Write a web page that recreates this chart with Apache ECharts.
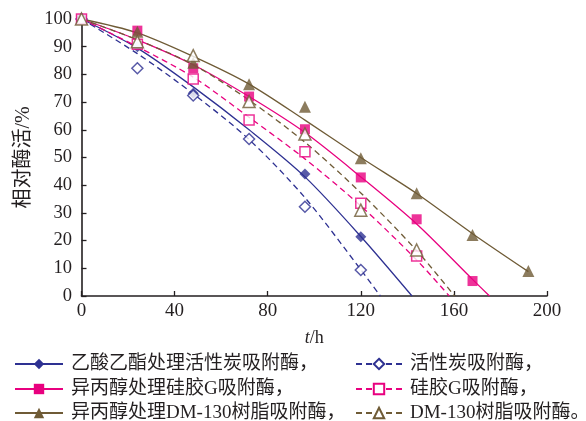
<!DOCTYPE html>
<html>
<head>
<meta charset="utf-8">
<script src="https://cdn.jsdelivr.net/npm/echarts@6/dist/echarts.min.js"></script>
<style>html,body{margin:0;padding:0;background:#fff}#c{width:586px;height:421px}</style>
</head>
<body>
<div id="c"></div>
<script>
// ---- measured points ----
const tPts = [0, 24, 48, 72, 96, 120, 144, 168, 192];
const eaCarbon   = [100, 90, 73.2, null, 44, 21.4];          // 乙酸乙酯处理活性炭吸附酶 (filled diamond)
const carbon     = [100, 82.2, 72.4, 56.7, 32.2, 9.4];        // 活性炭吸附酶 (hollow diamond)
const ipaSilica  = [100, 95.8, 82.2, 72, 60.2, 42.8, 27.7, 5.4]; // 异丙醇处理硅胶G吸附酶 (filled square)
const silica     = [100, 90.9, 78.3, 63.5, 52.1, 33.5, 14.4];  // 硅胶G吸附酶 (hollow square)
const ipaResin   = [100, 95.4, 84.2, 76.4, 68.3, 49.7, 37.1, 22, 9]; // 异丙醇处理DM-130树脂吸附酶 (filled triangle)
const resin      = [100, 91.8, 86.8, 70.2, 58.5, 31, 16.6];   // DM-130树脂吸附酶 (hollow triangle)

// ---- fitted curves ----
const fitEaCarbonX  = [0, 24, 48, 72, 96, 120, 142];
const fitEaCarbonY  = [100, 89.5, 75.5, 60, 43, 21.5, 0];
const fitCarbonX    = [0, 24, 48, 72, 96, 120, 128.4];
const fitCarbonY    = [100, 87.5, 73, 56.5, 35.5, 9.5, 0];
const fitIpaSilicaX = [0, 24, 48, 72, 96, 120, 144, 168, 175.3];
const fitIpaSilicaY = [100, 92.5, 83.5, 72, 59, 43, 26, 6, 0];
const fitSilicaX    = [0, 24, 48, 72, 96, 120, 144, 158];
const fitSilicaY    = [100, 90, 79, 64.5, 49.5, 32.5, 13, 0];
const fitIpaResinX  = [0, 24, 48, 72, 96, 120, 144, 168, 192];
const fitIpaResinY  = [100, 95, 86.5, 76.5, 63.5, 50, 37, 22.5, 8.8];
const fitResinX     = [0, 24, 48, 72, 96, 120, 144, 160.3];
const fitResinY     = [100, 92.5, 83.5, 70.7, 55.5, 37.2, 16.4, 0];

// ---- labels ----
const names = ['乙酸乙酯处理活性炭吸附酶，', '活性炭吸附酶，', '异丙醇处理硅胶G吸附酶，', '硅胶G吸附酶，', '异丙醇处理DM-130树脂吸附酶，', 'DM-130树脂吸附酶。'];
const xTicks = [0, 40, 80, 120, 160, 200];
const yTicks = [0, 10, 20, 30, 40, 50, 60, 70, 80, 90, 100];

const BLUE = '#2e3192', PINK = '#e8007f', BROWN = '#6f5b36', INK = '#231f20';
const FONT = "'Liberation Serif', 'Noto Sans CJK SC', serif";

function pairs(xs, ys) { return xs.map((x, i) => [x, ys[i]]); }
function ptPairs(ys) { return ys.map((v, i) => v == null ? null : [tPts[i], v]).filter(p => p); }

const dash = [6, 4];
function fitSeries(name, xs, ys, color, dashed, symbol) {
  return {
    name, type: 'line', data: pairs(xs, ys), smooth: 0.3, showSymbol: false, symbol,
    lineStyle: { color, width: 1.3, type: dashed ? dash : 'solid' },
    itemStyle: { color }, z: 2, silent: true
  };
}
function ptSeries(name, ys, color, symbol, size, hollow) {
  return {
    name, type: 'scatter', data: ptPairs(ys), symbol, symbolSize: size,
    itemStyle: hollow ? { color: '#fff', borderColor: color, borderWidth: 1.5 } : { color },
    z: hollow ? 5 : 4, silent: true
  };
}
function legendItem(name, left, width, centerY) {
  return {
    data: [name], orient: 'horizontal', left, top: centerY - 10, padding: 0,
    itemWidth: width, itemHeight: 13, selectedMode: false,
    textStyle: { color: INK, fontSize: 19, fontFamily: FONT, lineHeight: 20, padding: [0, 0, 0, 3] }
  };
}

const chart = echarts.init(document.getElementById('c'), null, { renderer: 'canvas' });
chart.setOption({
  animation: false,
  backgroundColor: '#fff',
  grid: { left: 81.5, right: 39, top: 19, bottom: 125, containLabel: false },
  xAxis: {
    type: 'value', min: 0, max: 200, interval: 40,
    name: '{i|t}/h', nameLocation: 'middle', nameGap: 33,
    nameTextStyle: { color: INK, fontSize: 18, fontFamily: FONT, rich: { i: { fontStyle: 'italic', fontSize: 18, fontFamily: FONT, color: INK } } },
    axisLine: { lineStyle: { color: INK, width: 1.6 } },
    axisTick: { inside: true, length: 5, lineStyle: { color: INK, width: 1.3 } },
    axisLabel: { color: INK, fontSize: 19, fontFamily: FONT, margin: 6, formatter: v => xTicks.includes(v) ? String(v) : '' },
    splitLine: { show: false }
  },
  yAxis: {
    type: 'value', min: 0, max: 100, interval: 10,
    name: '相对酶活/%', nameLocation: 'middle', nameGap: 48, nameRotate: 90,
    nameTextStyle: { color: INK, fontSize: 20, fontFamily: FONT },
    axisLine: { show: true, lineStyle: { color: INK, width: 1.6 } },
    axisTick: { show: true, inside: true, length: 5, lineStyle: { color: INK, width: 1.3 } },
    axisLabel: { color: INK, fontSize: 18.5, fontFamily: FONT, margin: 9.5, formatter: v => yTicks.includes(v) ? String(v) : '' },
    splitLine: { show: false }
  },
  legend: [
    legendItem(names[0], 14, 48, 364), legendItem(names[1], 355, 46, 364),
    legendItem(names[2], 14, 48, 389), legendItem(names[3], 355, 46, 389),
    legendItem(names[4], 14, 48, 413), legendItem(names[5], 355, 46, 413)
  ],
  series: [
    fitSeries(names[0], fitEaCarbonX, fitEaCarbonY, BLUE, false, 'diamond'),
    fitSeries(names[1], fitCarbonX, fitCarbonY, BLUE, true, 'emptyDiamond'),
    fitSeries(names[2], fitIpaSilicaX, fitIpaSilicaY, PINK, false, 'rect'),
    fitSeries(names[3], fitSilicaX, fitSilicaY, PINK, true, 'emptyRect'),
    fitSeries(names[4], fitIpaResinX, fitIpaResinY, BROWN, false, 'triangle'),
    fitSeries(names[5], fitResinX, fitResinY, BROWN, true, 'emptyTriangle'),
    ptSeries('p0', eaCarbon, BLUE, 'diamond', 11, false),
    ptSeries('p2', ipaSilica, PINK, 'rect', 10, false),
    ptSeries('p4', ipaResin, BROWN, 'triangle', 12, false),
    ptSeries('p1', carbon, BLUE, 'diamond', 11, true),
    ptSeries('p3', silica, PINK, 'rect', 10, true),
    ptSeries('p5', resin, BROWN, 'triangle', 12, true)
  ]
});
</script>
</body>
</html>
